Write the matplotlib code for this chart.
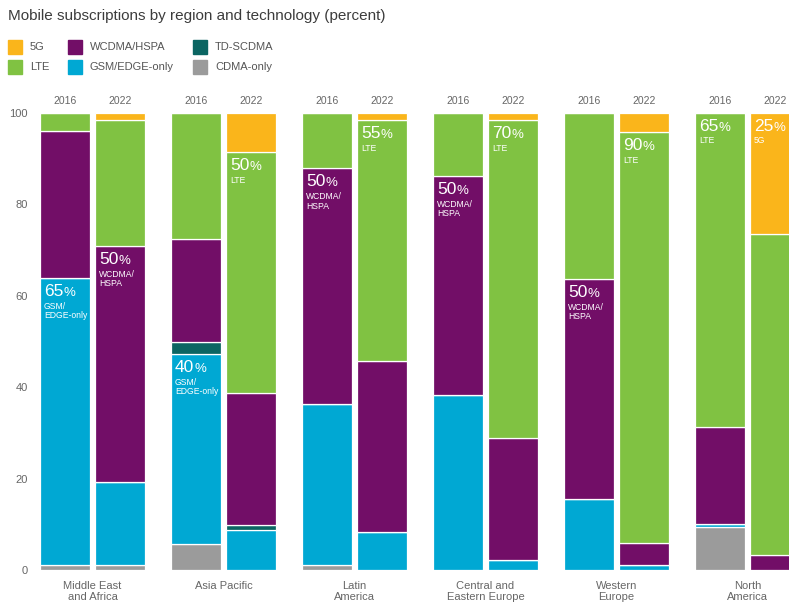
import matplotlib
matplotlib.use("Agg")
import matplotlib.pyplot as plt
import numpy as np
from matplotlib.lines import Line2D

plt.rcParams["font.family"] = ["Liberation Sans", "DejaVu Sans"]

regions = ["Middle East\nand Africa", "Asia Pacific", "Latin\nAmerica",
           "Central and\nEastern Europe", "Western\nEurope", "North\nAmerica"]
years = ["2016", "2022"]

# one value per bar: region by region, 2016 then 2022
cdma = [1.2, 1.2, 5.6, 0, 1.0, 0, 0, 0, 0, 0, 9.3, 0]
gsm = [62.6, 18.0, 41.6, 8.7, 35.4, 8.3, 38.3, 2.2, 15.6, 1.0, 0.8, 0]
td_scdma = [0, 0, 2.7, 1.2, 0, 0, 0, 0, 0, 0, 0, 0]
wcdma = [32.2, 51.7, 22.5, 28.7, 51.4, 37.5, 47.9, 26.7, 48.0, 4.8, 21.2, 3.3]
lte = [4.0, 27.5, 27.6, 52.8, 12.2, 52.6, 13.8, 69.5, 36.4, 90.0, 68.7, 70.2]
g5 = [0, 1.6, 0, 8.6, 0, 1.6, 0, 1.6, 0, 4.2, 0, 26.5]

tech_names = ["CDMA-only", "GSM/EDGE-only", "TD-SCDMA", "WCDMA/HSPA", "LTE", "5G"]
tech_values = [cdma, gsm, td_scdma, wcdma, lte, g5]
tech_colors = ["#9b9b9b", "#00a8d3", "#0b6562", "#720e67", "#80c242", "#fab51b"]

# callouts: bar index, technology index, big number, small label
callout_bar = [0, 1, 2, 3, 4, 5, 6, 7, 8, 9, 10, 11]
callout_tech = [1, 3, 1, 4, 3, 4, 3, 4, 3, 4, 4, 5]
callout_num = ["65", "50", "40", "50", "50", "55", "50", "70", "50", "90", "65", "25"]
callout_text = ["GSM/\nEDGE-only", "WCDMA/\nHSPA", "GSM/\nEDGE-only", "LTE",
                "WCDMA/\nHSPA", "LTE", "WCDMA/\nHSPA", "LTE", "WCDMA/\nHSPA",
                "LTE", "LTE", "5G"]

W, H = 789, 602
fig = plt.figure(figsize=(W / 100, H / 100), dpi=100)
ax = fig.add_axes([36 / W, 32 / H, (W - 36) / W, 457.3 / H])

group_gap = 131.0
bar_w = 50 / group_gap
offset = 27.5 / group_gap
xs = []
for i in range(len(regions)):
    xs += [i - offset, i + offset]
xs = np.array(xs)

bottom = np.zeros(len(xs))
for vals, col in zip(tech_values, tech_colors):
    v = np.array(vals, dtype=float)
    ax.bar(xs, v, bottom=bottom, width=bar_w, color=col,
           edgecolor="white", linewidth=0.9)
    bottom += v

ax.set_xlim((36 - 92.5) / group_gap, (W - 92.5) / group_gap)
ax.set_ylim(0, 100)
for s in ax.spines.values():
    s.set_visible(False)
ax.set_xticks([])
ax.set_yticks([0, 20, 40, 60, 80, 100])
ax.tick_params(axis="y", length=0, pad=6, labelsize=8, labelcolor="#666666")

for i, x in enumerate(xs):
    ax.text(x, 102.6, years[i % 2], ha="center", va="center",
            fontsize=7.5, color="#666666", clip_on=False)
for i, name in enumerate(regions):
    ax.text(i, -2.4, name, ha="center", va="top", fontsize=8,
            color="#666666", linespacing=1.15, clip_on=False)

stack = np.cumsum(np.array(tech_values, dtype=float), axis=0)
for b, t, num, lab in zip(callout_bar, callout_tech, callout_num, callout_text):
    top = stack[t][b]
    x0 = xs[b] - bar_w / 2
    big = ax.annotate(num, xy=(x0, top), xytext=(4, -6), textcoords="offset pixels",
                      ha="left", va="top", fontsize=12.5, color="white")
    ax.annotate("%", xy=(1, 0), xycoords=big, xytext=(0, 0),
                textcoords="offset points", ha="left", va="bottom",
                fontsize=9.5, color="white")
    ax.annotate(lab, xy=(0, 0), xycoords=big, xytext=(0, -2),
                textcoords="offset points", ha="left", va="top",
                fontsize=6.2, color="white", linespacing=1.05)

fig.text(8 / W, 1 - 16 / H, "Mobile subscriptions by region and technology (percent)",
         ha="left", va="center", fontsize=11, color="#3c3c3c")

legend_order = [5, 4, 3, 1, 2, 0]
legend_pos = [(15, 47), (15, 67), (75, 47), (75, 67), (200, 47), (200, 67)]
for k, (px, py) in zip(legend_order, legend_pos):
    fig.add_artist(Line2D([px / W], [1 - py / H], marker="s", markersize=9.5,
                          color=tech_colors[k], linestyle="none",
                          transform=fig.transFigure))
    fig.text((px + 15) / W, 1 - py / H, tech_names[k], ha="left", va="center",
             fontsize=8, color="#555555")

fig.savefig("out.png", dpi=100)
